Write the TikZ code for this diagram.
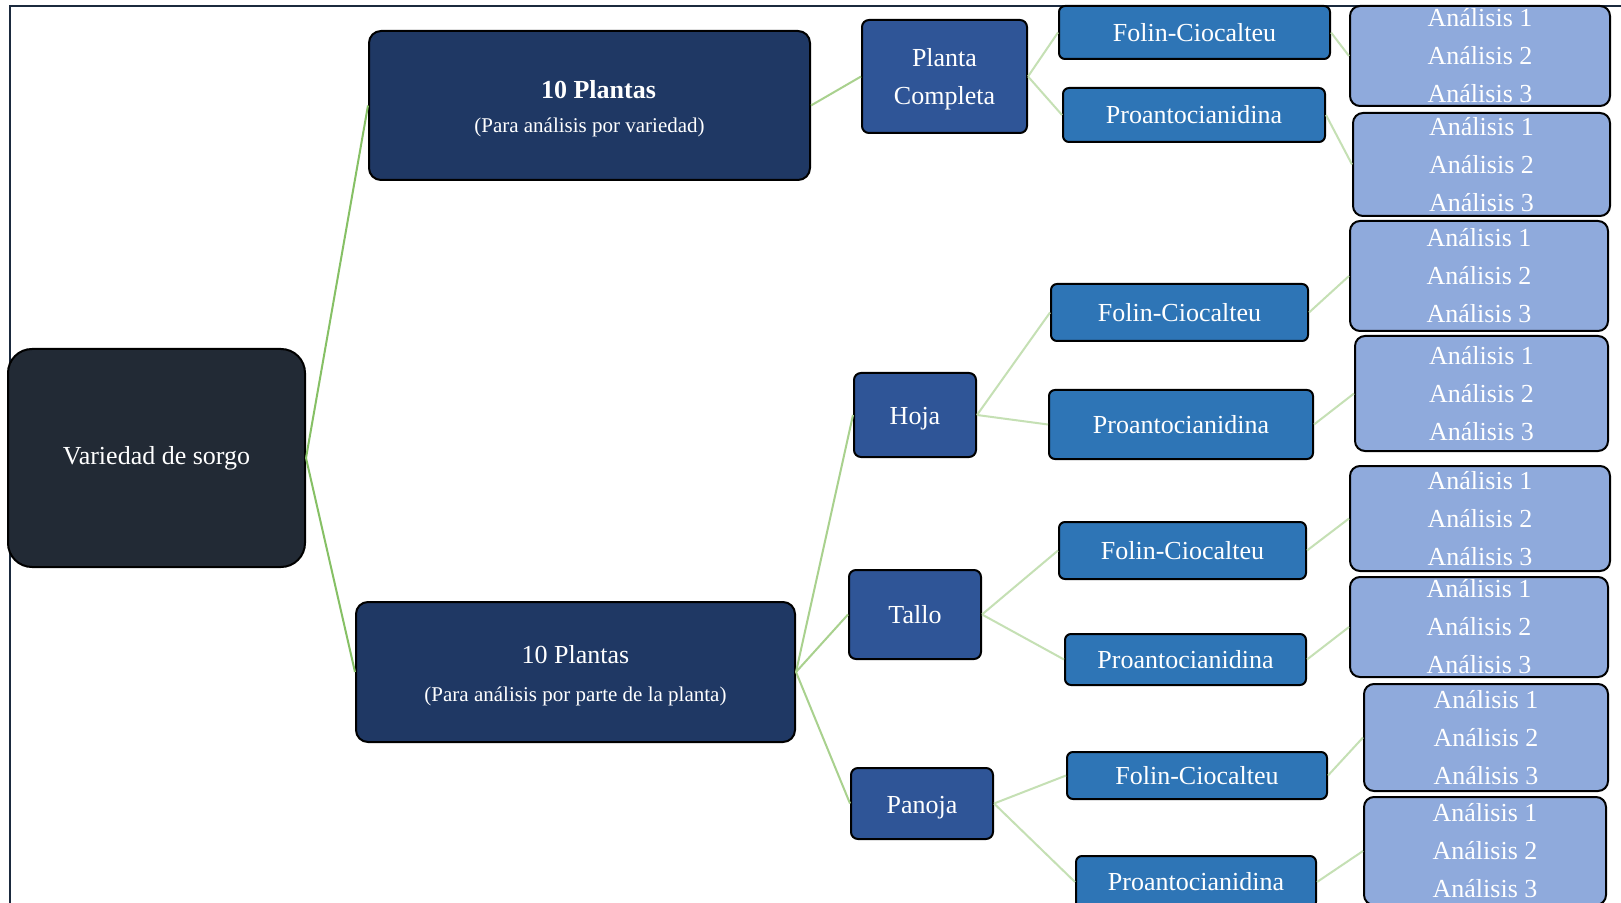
\documentclass[tikz,border=0pt]{standalone}
\usepackage{fontspec}
\setmainfont{Liberation Serif}
\definecolor{rootc}{HTML}{222A35}
\definecolor{plc}{HTML}{1F3864}
\definecolor{partc}{HTML}{2F5597}
\definecolor{metc}{HTML}{2E75B6}
\definecolor{anc}{HTML}{8FAADC}
\definecolor{gA}{HTML}{86C065}
\definecolor{gB}{HTML}{A9D18E}
\definecolor{gC}{HTML}{C5E0B4}
\definecolor{framec}{HTML}{1B2A3E}
\newcommand\mkbox[7]{%
  \pgfmathsetmacro\bcx{(#3+#5)/2}%
  \pgfmathsetmacro\bcy{(#4+#6)/2}%
  \pgfmathsetmacro\bw{(#5-#3)*0.5}%
  \pgfmathsetmacro\bh{(#6-#4)*0.5}%
  \node[#1, minimum width=\bw pt, minimum height=\bh pt] (#2) at (\bcx,\bcy) {#7};}
\newcommand\dn[1]{\rule{0pt}{#1}}
\tikzset{
  base/.style={draw=black, line width=1pt, text=white, inner sep=0pt, align=center,
    font=\fontsize{13}{19}\selectfont},
  rootbox/.style={base, fill=rootc, rounded corners=12pt},
  plbox/.style={base, fill=plc, rounded corners=6pt},
  partbox/.style={base, fill=partc, rounded corners=3.5pt},
  metbox/.style={base, fill=metc, rounded corners=3pt},
  anbox/.style={base, fill=anc, rounded corners=5pt},
  lnA/.style={draw=gA, line width=1pt},
  lnB/.style={draw=gB, line width=1pt},
  lnC/.style={draw=gC, line width=1pt},
}
\begin{document}
\begin{tikzpicture}[x=0.5pt,y=-0.5pt]
\useasboundingbox (0,0) rectangle (1621,903);
\clip (0,0) rectangle (1621,903);
\fill[white] (0,0) rectangle (1621,903);
\draw[framec, line width=1pt] (10,920) -- (10,6) -- (1640,6);

\mkbox{rootbox}{root}{8}{349}{305}{567}{Variedad de sorgo}
\mkbox{plbox}{pa}{369}{31}{810}{180}{\dn{12.5pt}\hspace*{9pt}{\bfseries 10 Plantas}\\[-2pt]{\fontsize{10.5}{12}\selectfont (Para análisis por variedad)}}
\mkbox{plbox}{pb}{356}{602}{795}{742}{\dn{13pt}10 Plantas\\[0pt]{\fontsize{10.5}{12}\selectfont (Para análisis por parte de la planta)}}

\mkbox{partbox}{pc}{862}{20}{1027}{133}{\dn{12pt}Planta\\Completa}
\mkbox{partbox}{hoja}{854}{373}{976}{457}{\dn{12.5pt}Hoja}
\mkbox{partbox}{tallo}{849}{570}{981}{659}{Tallo}
\mkbox{partbox}{panoja}{851}{768}{993}{839}{\dn{12.5pt}Panoja}

\mkbox{metbox}{fa}{1059}{6}{1330}{59}{Folin-Ciocalteu}
\mkbox{metbox}{pra}{1063}{88}{1325}{142}{Proantocianidina}
\mkbox{metbox}{fb}{1051}{284}{1308}{341}{Folin-Ciocalteu}
\mkbox{metbox}{prb}{1049}{390}{1313}{459}{Proantocianidina}
\mkbox{metbox}{fc}{1059}{522}{1306}{579}{Folin-Ciocalteu}
\mkbox{metbox}{prc}{1065}{634}{1306}{685}{Proantocianidina}
\mkbox{metbox}{fd}{1067}{752}{1327}{799}{Folin-Ciocalteu}
\mkbox{metbox}{prd}{1076}{856}{1316}{908}{Proantocianidina}

\mkbox{anbox}{a1}{1350}{6}{1610}{106}{Análisis 1\\Análisis 2\\Análisis 3}
\mkbox{anbox}{a2}{1353}{113}{1610}{216}{Análisis 1\\Análisis 2\\Análisis 3}
\mkbox{anbox}{a3}{1350}{221}{1608}{331}{Análisis 1\\Análisis 2\\Análisis 3}
\mkbox{anbox}{a4}{1355}{336}{1608}{451}{Análisis 1\\Análisis 2\\Análisis 3}
\mkbox{anbox}{a5}{1350}{466}{1610}{571}{Análisis 1\\Análisis 2\\Análisis 3}
\mkbox{anbox}{a6}{1350}{577}{1608}{677}{Análisis 1\\Análisis 2\\Análisis 3}
\mkbox{anbox}{a7}{1364}{684}{1608}{791}{Análisis 1\\Análisis 2\\Análisis 3}
\mkbox{anbox}{a8}{1364}{797}{1606}{905}{Análisis 1\\Análisis 2\\Análisis 3}

\draw[lnA] (root.east) -- (pa.west);
\draw[lnA] (root.east) -- (pb.west);
\draw[lnB] (pa.east) -- (pc.west);
\draw[lnB] (pb.east) -- (hoja.west);
\draw[lnB] (pb.east) -- (tallo.west);
\draw[lnB] (pb.east) -- (panoja.west);
\draw[lnC] (pc.east) -- (fa.west);
\draw[lnC] (pc.east) -- (pra.west);
\draw[lnC] (hoja.east) -- (fb.west);
\draw[lnC] (hoja.east) -- (prb.west);
\draw[lnC] (tallo.east) -- (fc.west);
\draw[lnC] (tallo.east) -- (prc.west);
\draw[lnC] (panoja.east) -- (fd.west);
\draw[lnC] (panoja.east) -- (prd.west);
\draw[lnC] (fa.east) -- (a1.west);
\draw[lnC] (pra.east) -- (a2.west);
\draw[lnC] (fb.east) -- (a3.west);
\draw[lnC] (prb.east) -- (a4.west);
\draw[lnC] (fc.east) -- (a5.west);
\draw[lnC] (prc.east) -- (a6.west);
\draw[lnC] (fd.east) -- (a7.west);
\draw[lnC] (prd.east) -- (a8.west);
\end{tikzpicture}
\end{document}
